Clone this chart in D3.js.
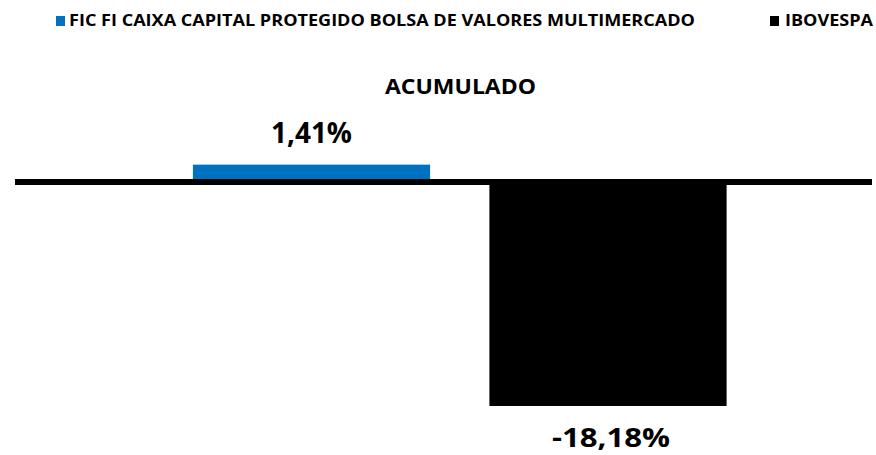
<!DOCTYPE html>
<html>
<head>
<meta charset="utf-8">
<script src="https://cdn.jsdelivr.net/npm/d3@7"></script>
<style>
  body { margin: 0; background: #fff; }
  text { font-family: "Open Sans", "Liberation Sans", sans-serif; font-weight: bold; }
</style>
</head>
<body>
<script>
// chart data
var categories = ["FIC FI CAIXA CAPITAL PROTEGIDO BOLSA DE VALORES MULTIMERCADO", "IBOVESPA"];
var values = [1.41, -18.18];
var colours = ["#0070c0", "#000000"];
var labels = ["1,41%", "-18,18%"];
var title = "ACUMULADO";

function init(){
    var w = 876;
    var h = 455;

    var svg = d3.select("body")
                .append("svg")
                .attr("width", w)
                .attr("height", h);

    // x band for the two bars
    var x = d3.scaleBand()
              .domain(categories)
              .range([163.25, 756.25])
              .paddingInner(0.2)
              .paddingOuter(0.1);

    // zero sits at y=182, ~12.32px per percent
    var y = d3.scaleLinear()
              .domain([-20, 2])
              .range([428.4, 157.36]);

    // title
    svg.append("text")
       .attr("x", 385)
       .attr("y", 94)
       .attr("font-size", 21)
       .attr("textLength", 151)
       .attr("lengthAdjust", "spacingAndGlyphs")
       .text(title);

    // bars
    svg.selectAll("rect.bar")
       .data(values)
       .enter()
       .append("rect")
       .attr("class", "bar")
       .attr("x", function(d, i){ return x(categories[i]); })
       .attr("width", x.bandwidth())
       .attr("y", function(d){ return y(Math.max(0, d)); })
       .attr("height", function(d){ return Math.abs(y(d) - y(0)); })
       .attr("fill", function(d, i){ return colours[i]; });

    // zero line
    svg.append("line")
       .attr("x1", 15)
       .attr("x2", 872)
       .attr("y1", y(0))
       .attr("y2", y(0))
       .attr("stroke", "#000")
       .attr("stroke-width", 6);

    // value labels
    svg.selectAll("text.lbl")
       .data(values)
       .enter()
       .append("text")
       .attr("class", "lbl")
       .attr("x", function(d, i){ return x(categories[i]) + x.bandwidth() / 2 + (i == 0 ? 0 : 3); })
       .attr("y", function(d){ return d >= 0 ? y(d) - 21.5 : y(d) + 41; })
       .attr("text-anchor", "middle")
       .attr("font-size", function(d, i){ return i == 0 ? 28 : 26; })
       .attr("textLength", function(d, i){ return i == 0 ? 81 : 118; })
       .attr("lengthAdjust", "spacingAndGlyphs")
       .text(function(d, i){ return labels[i]; });

    // legend
    var legendX = [56, 770];
    var legendW = [626, 88];
    var lg = svg.selectAll("g.legend")
                .data(categories)
                .enter()
                .append("g")
                .attr("class", "legend")
                .attr("transform", function(d, i){ return "translate(" + legendX[i] + ",0)"; });

    lg.append("rect")
      .attr("x", 0)
      .attr("y", 16)
      .attr("width", 9)
      .attr("height", 10)
      .attr("fill", function(d, i){ return colours[i]; });

    lg.append("text")
      .attr("x", function(d, i){ return i == 0 ? 13 : 15; })
      .attr("y", 25.5)
      .attr("font-size", 16)
      .attr("textLength", function(d, i){ return legendW[i]; })
      .attr("lengthAdjust", "spacingAndGlyphs")
      .text(function(d){ return d; });
}
window.onload = init;
</script>
</body>
</html>
